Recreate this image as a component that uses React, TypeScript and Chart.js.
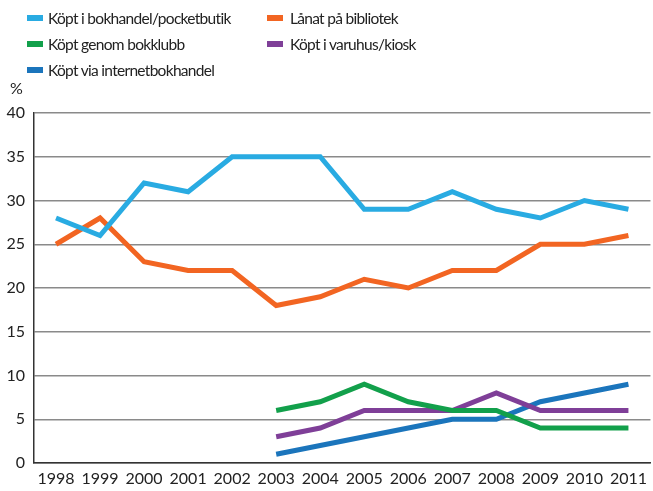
import React, { useEffect, useRef } from "react";
import { Chart, registerables } from "chart.js";

Chart.register(...registerables);

const years = ["1998","1999","2000","2001","2002","2003","2004","2005","2006","2007","2008","2009","2010","2011"];
const bokhandel = [28, 26, 32, 31, 35, 35, 35, 29, 29, 31, 29, 28, 30, 29];
const bibliotek = [25, 28, 23, 22, 22, 18, 19, 21, 20, 22, 22, 25, 25, 26];
const bokklubb = [null, null, null, null, null, 6, 7, 9, 7, 6, 6, 4, 4, 4];
const varuhus = [null, null, null, null, null, 3, 4, 6, 6, 6, 8, 6, 6, 6];
const internet = [null, null, null, null, null, 1, 2, 3, 4, 5, 5, 7, 8, 9];
const yTicks = [0, 5, 10, 15, 20, 25, 30, 35, 40];

const FONT = "Lato, sans-serif";

const series = [
  { label: "Köpt i bokhandel/pocketbutik", data: bokhandel, color: "#29abe2" },
  { label: "Lånat på bibliotek", data: bibliotek, color: "#f26522" },
  { label: "Köpt genom bokklubb", data: bokklubb, color: "#12a04b" },
  { label: "Köpt i varuhus/kiosk", data: varuhus, color: "#7f3f98" },
  { label: "Köpt via internetbokhandel", data: internet, color: "#1b75bc" },
];

const legendPos = [
  { left: 27, top: 8, gap: 5 },
  { left: 267, top: 8, gap: 7 },
  { left: 27, top: 34, gap: 5 },
  { left: 267, top: 34, gap: 7 },
  { left: 27, top: 60, gap: 5 },
];

export default function App() {
  const ref = useRef<HTMLCanvasElement>(null);
  useEffect(() => {
    if (!ref.current) return;
    const chart = new Chart(ref.current, {
      type: "line",
      data: {
        labels: years,
        datasets: series.map((s) => ({
          label: s.label,
          data: s.data,
          borderColor: s.color,
          backgroundColor: s.color,
          borderWidth: 5,
          pointRadius: 0,
          tension: 0,
          spanGaps: false,
          borderJoinStyle: "miter" as const,
        })),
      },
      options: {
        animation: false,
        responsive: false,
        maintainAspectRatio: false,
        layout: { padding: { top: 113, left: 0, right: 0, bottom: 0 } },
        plugins: { legend: { display: false }, tooltip: { enabled: false } },
        scales: {
          x: {
            offset: true,
            grid: { display: false, drawTicks: false },
            border: { display: true, color: "#333", width: 1.5 },
            ticks: { color: "#222", font: { family: FONT, size: 16 }, padding: 6, maxRotation: 0, autoSkip: false },
            afterFit: (s: any) => { s.height = 28; },
          },
          y: {
            min: 0,
            max: 40,
            afterBuildTicks: (s: any) => { s.ticks = yTicks.map((v) => ({ value: v })); },
            grid: { color: "#8a8a8a", lineWidth: 1.5, drawTicks: false },
            border: { display: true, color: "#333", width: 1.5 },
            ticks: { color: "#222", font: { family: FONT, size: 16 }, padding: 9 },
            afterFit: (s: any) => { s.width = 34; },
          },
        },
      },
    });
    return () => chart.destroy();
  }, []);
  return (
    <div style={{ position: "fixed", left: 0, top: 0, width: 653, height: 491, background: "#fff", fontFamily: FONT }}>
      <canvas ref={ref} width={653} height={491} style={{ position: "absolute", left: 0, top: 0 }} />
      {series.map((s, i) => (
        <div key={s.label} style={{ position: "absolute", left: legendPos[i].left, top: legendPos[i].top, display: "flex", alignItems: "center", fontSize: 15.5, letterSpacing: "-0.7px", color: "#222", whiteSpace: "nowrap", lineHeight: "20px" }}>
          <span style={{ display: "inline-block", width: 16, height: 6, background: s.color, marginRight: legendPos[i].gap }} />
          {s.label}
        </div>
      ))}
      <div style={{ position: "absolute", left: 10, top: 78, fontSize: 16, color: "#222" }}>%</div>
    </div>
  );
}
